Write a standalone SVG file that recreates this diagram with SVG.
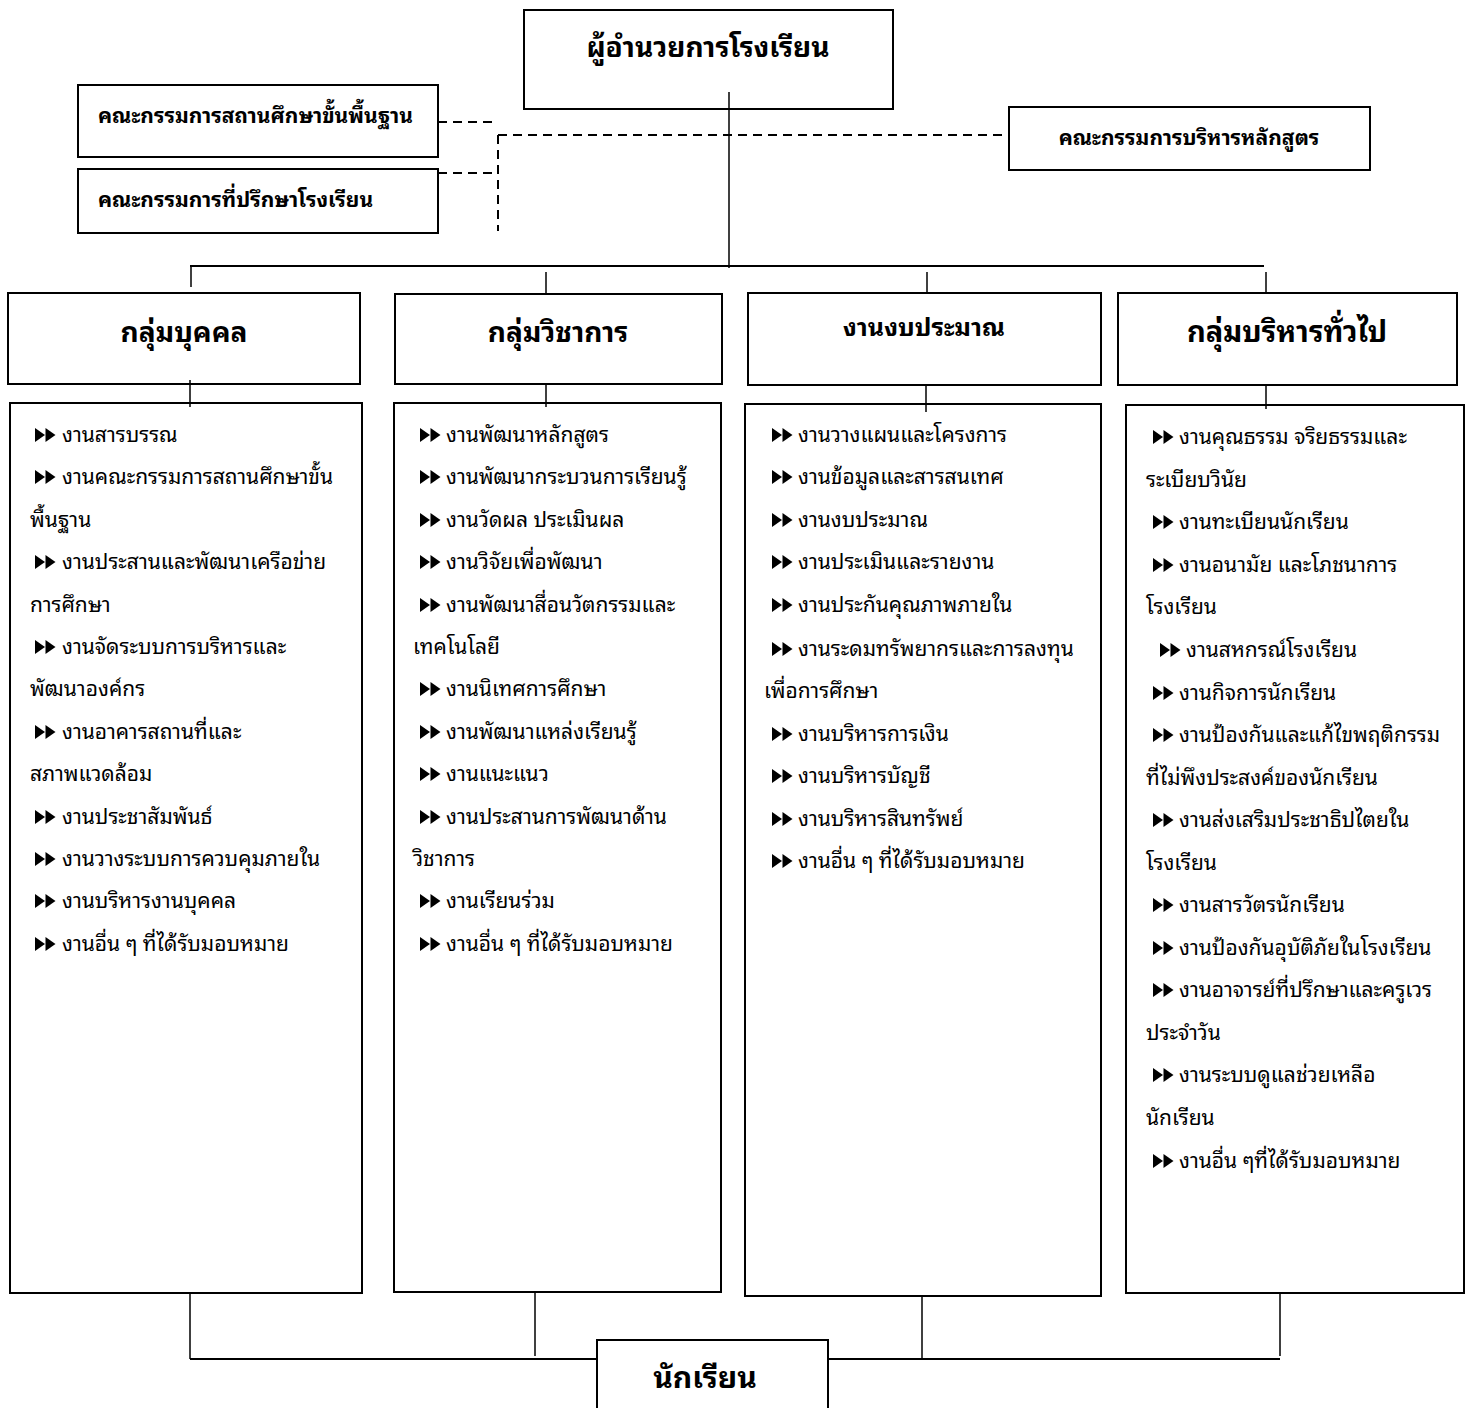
<svg xmlns="http://www.w3.org/2000/svg" xmlns:xlink="http://www.w3.org/1999/xlink" width="1470" height="1408" viewBox="0 0 1470 1408">
<style>
.box{fill:#fff;stroke:#000;stroke-width:2}
.ln{stroke:#000;stroke-width:1.5;fill:none}
.lnb{stroke:#000;stroke-width:2.2;fill:none}
.dash{stroke:#000;stroke-width:2;stroke-dasharray:9 6;fill:none}
text{font-family:"Noto Sans Thai Looped","Noto Serif Thai","Noto Sans Thai","Noto Sans","DejaVu Sans",sans-serif;fill:#000}
.t{font-size:21px}
.h{font-size:28px;font-weight:bold;text-anchor:middle}
.h2{font-size:25px;font-weight:bold;text-anchor:middle}
.c{font-size:21px;font-weight:bold}
</style>
<defs>
<g id="ar"><polygon points="0,0 10,7 0,14"/><polygon points="10.5,0 20.5,7 10.5,14"/></g>
</defs>
<rect width="1470" height="1408" fill="#fff"/>

<g id="connectors">
<line class="ln" x1="729" y1="92" x2="729" y2="268"/>
<line class="lnb" x1="190" y1="266" x2="1264" y2="266"/>
<line class="ln" x1="191" y1="266" x2="191" y2="287"/>
<line class="ln" x1="546" y1="272" x2="546" y2="293"/>
<line class="ln" x1="927" y1="272" x2="927" y2="293"/>
<line class="ln" x1="1266" y1="272" x2="1266" y2="293"/>
<line class="dash" x1="438" y1="122" x2="498" y2="122"/>
<line class="dash" x1="438" y1="173" x2="498" y2="173"/>
<line class="dash" x1="498" y1="135" x2="498" y2="231"/>
<line class="dash" x1="498" y1="135" x2="1009" y2="135"/>
<line class="ln" x1="190" y1="1293" x2="190" y2="1359"/>
<line class="ln" x1="535" y1="1291" x2="535" y2="1356"/>
<line class="ln" x1="922" y1="1296" x2="922" y2="1359"/>
<line class="ln" x1="1280" y1="1290" x2="1280" y2="1356"/>
<line class="lnb" x1="190" y1="1359" x2="597" y2="1359"/>
<line class="lnb" x1="828" y1="1359" x2="1280" y2="1359"/>
</g>

<g id="director">
<rect class="box" x="524" y="10" width="369" height="99"/>
<text class="h" x="708" y="57">ผู้อำนวยการโรงเรียน</text>
</g>
<line class="ln" x1="729" y1="92" x2="729" y2="109"/>

<g id="basic-committee">
<rect class="box" x="78" y="85" width="360" height="72"/>
<text class="c" x="98" y="123">คณะกรรมการสถานศึกษาขั้นพื้นฐาน</text>
</g>
<g id="advisory-committee">
<rect class="box" x="78" y="169" width="360" height="64"/>
<text class="c" x="98" y="207">คณะกรรมการที่ปรึกษาโรงเรียน</text>
</g>
<g id="curriculum-committee">
<rect class="box" x="1009" y="107" width="361" height="63"/>
<text class="c" x="1189" y="145" text-anchor="middle">คณะกรรมการบริหารหลักสูตร</text>
</g>

<g id="personnel">
<rect class="box" x="8" y="293" width="352" height="91"/>
<text class="h" x="184" y="342">กลุ่มบุคคล</text>
<rect class="box" x="10" y="403" width="352" height="890"/>
<line class="ln" x1="190" y1="380" x2="190" y2="407"/>
<g class="t">
<use href="#ar" x="35" y="428"/><text x="62" y="442">งานสารบรรณ</text>
<use href="#ar" x="35" y="470"/><text x="62" y="484">งานคณะกรรมการสถานศึกษาขั้น</text>
<text x="30" y="527">พื้นฐาน</text>
<use href="#ar" x="35" y="555"/><text x="62" y="569">งานประสานและพัฒนาเครือข่าย</text>
<text x="30" y="612">การศึกษา</text>
<use href="#ar" x="35" y="640"/><text x="62" y="654">งานจัดระบบการบริหารและ</text>
<text x="30" y="696">พัฒนาองค์กร</text>
<use href="#ar" x="35" y="725"/><text x="62" y="739">งานอาคารสถานที่และ</text>
<text x="30" y="781">สภาพแวดล้อม</text>
<use href="#ar" x="35" y="810"/><text x="62" y="824">งานประชาสัมพันธ์</text>
<use href="#ar" x="35" y="852"/><text x="62" y="866">งานวางระบบการควบคุมภายใน</text>
<use href="#ar" x="35" y="894"/><text x="62" y="908">งานบริหารงานบุคคล</text>
<use href="#ar" x="35" y="937"/><text x="62" y="951">งานอื่น ๆ ที่ได้รับมอบหมาย</text>
</g>
</g>

<g id="academic">
<rect class="box" x="395" y="294" width="327" height="90"/>
<text class="h" x="558" y="342">กลุ่มวิชาการ</text>
<rect class="box" x="394" y="403" width="327" height="889"/>
<line class="ln" x1="546" y1="384" x2="546" y2="407"/>
<g class="t">
<use href="#ar" x="420" y="428"/><text x="446" y="442">งานพัฒนาหลักสูตร</text>
<use href="#ar" x="420" y="470"/><text x="446" y="484">งานพัฒนากระบวนการเรียนรู้</text>
<use href="#ar" x="420" y="513"/><text x="446" y="527">งานวัดผล ประเมินผล</text>
<use href="#ar" x="420" y="555"/><text x="446" y="569">งานวิจัยเพื่อพัฒนา</text>
<use href="#ar" x="420" y="598"/><text x="446" y="612">งานพัฒนาสื่อนวัตกรรมและ</text>
<text x="413" y="654">เทคโนโลยี</text>
<use href="#ar" x="420" y="682"/><text x="446" y="696">งานนิเทศการศึกษา</text>
<use href="#ar" x="420" y="725"/><text x="446" y="739">งานพัฒนาแหล่งเรียนรู้</text>
<use href="#ar" x="420" y="767"/><text x="446" y="781">งานแนะแนว</text>
<use href="#ar" x="420" y="810"/><text x="446" y="824">งานประสานการพัฒนาด้าน</text>
<text x="413" y="866">วิชาการ</text>
<use href="#ar" x="420" y="894"/><text x="446" y="908">งานเรียนร่วม</text>
<use href="#ar" x="420" y="937"/><text x="446" y="951">งานอื่น ๆ ที่ได้รับมอบหมาย</text>
</g>
</g>

<g id="budget">
<rect class="box" x="748" y="293" width="353" height="92"/>
<text class="h2" x="924" y="336">งานงบประมาณ</text>
<rect class="box" x="745" y="404" width="356" height="892"/>
<line class="ln" x1="926" y1="385" x2="926" y2="412"/>
<g class="t">
<use href="#ar" x="772" y="428"/><text x="798" y="442">งานวางแผนและโครงการ</text>
<use href="#ar" x="772" y="470"/><text x="798" y="484">งานข้อมูลและสารสนเทศ</text>
<use href="#ar" x="772" y="513"/><text x="798" y="527">งานงบประมาณ</text>
<use href="#ar" x="772" y="555"/><text x="798" y="569">งานประเมินและรายงาน</text>
<use href="#ar" x="772" y="598"/><text x="798" y="612">งานประกันคุณภาพภายใน</text>
<use href="#ar" x="772" y="642"/><text x="798" y="656">งานระดมทรัพยากรและการลงทุน</text>
<text x="764" y="698">เพื่อการศึกษา</text>
<use href="#ar" x="772" y="727"/><text x="798" y="741">งานบริหารการเงิน</text>
<use href="#ar" x="772" y="769"/><text x="798" y="783">งานบริหารบัญชี</text>
<use href="#ar" x="772" y="812"/><text x="798" y="826">งานบริหารสินทรัพย์</text>
<use href="#ar" x="772" y="854"/><text x="798" y="868">งานอื่น ๆ ที่ได้รับมอบหมาย</text>
</g>
</g>

<g id="general">
<rect class="box" x="1118" y="293" width="339" height="92"/>
<text class="h" x="1287" y="342" style="font-size:29px">กลุ่มบริหารทั่วไป</text>
<rect class="box" x="1126" y="405" width="338" height="888"/>
<line class="ln" x1="1266" y1="385" x2="1266" y2="409"/>
<g class="t">
<use href="#ar" x="1153" y="430"/><text x="1179" y="444">งานคุณธรรม จริยธรรมและ</text>
<text x="1146" y="487">ระเบียบวินัย</text>
<use href="#ar" x="1153" y="515"/><text x="1179" y="529">งานทะเบียนนักเรียน</text>
<use href="#ar" x="1153" y="558"/><text x="1179" y="572">งานอนามัย และโภชนาการ</text>
<text x="1146" y="614">โรงเรียน</text>
<use href="#ar" x="1160" y="643"/><text x="1186" y="657">งานสหกรณ์โรงเรียน</text>
<use href="#ar" x="1153" y="686"/><text x="1179" y="700">งานกิจการนักเรียน</text>
<use href="#ar" x="1153" y="728"/><text x="1179" y="742">งานป้องกันและแก้ไขพฤติกรรม</text>
<text x="1146" y="785">ที่ไม่พึงประสงค์ของนักเรียน</text>
<use href="#ar" x="1153" y="813"/><text x="1179" y="827">งานส่งเสริมประชาธิปไตยใน</text>
<text x="1146" y="870">โรงเรียน</text>
<use href="#ar" x="1153" y="898"/><text x="1179" y="912">งานสารวัตรนักเรียน</text>
<use href="#ar" x="1153" y="941"/><text x="1179" y="955">งานป้องกันอุบัติภัยในโรงเรียน</text>
<use href="#ar" x="1153" y="983"/><text x="1179" y="997">งานอาจารย์ที่ปรึกษาและครูเวร</text>
<text x="1146" y="1040">ประจำวัน</text>
<use href="#ar" x="1153" y="1068"/><text x="1179" y="1082">งานระบบดูแลช่วยเหลือ</text>
<text x="1146" y="1125">นักเรียน</text>
<use href="#ar" x="1153" y="1154"/><text x="1179" y="1168">งานอื่น ๆที่ได้รับมอบหมาย</text>
</g>
</g>

<g id="students">
<rect class="box" x="597" y="1340" width="231" height="70"/>
<text class="h" x="705" y="1388" style="font-size:30px">นักเรียน</text>
</g>
</svg>
